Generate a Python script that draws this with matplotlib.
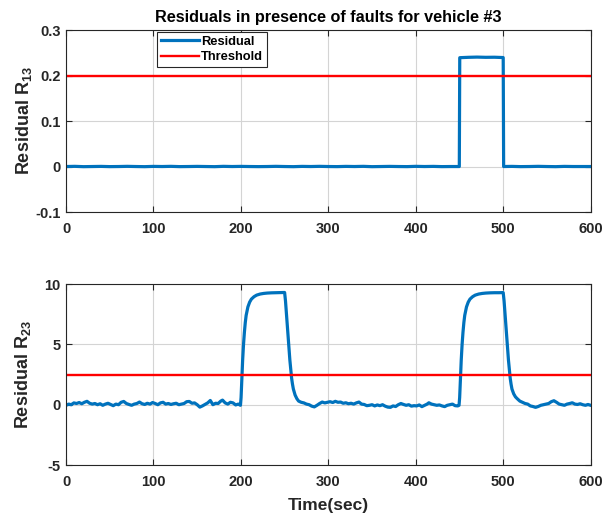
import matplotlib
matplotlib.use("Agg")
import matplotlib.pyplot as plt

plt.rcParams['font.family'] = ['Liberation Sans', 'DejaVu Sans']
plt.rcParams['font.weight'] = 'bold'
plt.rcParams['mathtext.fontset'] = 'custom'
plt.rcParams['mathtext.rm'] = 'Liberation Sans:bold'
plt.rcParams['mathtext.bf'] = 'Liberation Sans:bold'
plt.rcParams['mathtext.default'] = 'bf'
plt.rcParams['axes.unicode_minus'] = False

# residual R13 (top)
r13_t = [0, 10, 20, 30, 40, 50, 60, 70, 80, 90, 100, 110, 120, 130, 140, 150,
         160, 170, 180, 190, 200, 210, 220, 230, 240, 250, 260, 270, 280, 290,
         300, 310, 320, 330, 340, 350, 360, 370, 380, 390, 400, 410, 420, 430,
         440, 449.8, 450.3, 460, 470, 480, 490, 500, 500.5, 510, 520, 530, 540,
         550, 560, 570, 580, 590, 600]
r13_v = [0.0000, 0.0004, -0.0003, 0.0000, 0.0003, -0.0002, 0.0000, 0.0004,
         0.0000, -0.0003, 0.0003, 0.0000, 0.0004, -0.0002, 0.0000, 0.0003,
         0.0000, -0.0003, 0.0004, 0.0000, 0.0003, 0.0000, -0.0002, 0.0000,
         0.0004, 0.0000, -0.0003, 0.0003, 0.0000, 0.0004, 0.0000, -0.0002,
         0.0003, 0.0000, 0.0004, -0.0003, 0.0000, 0.0003, 0.0000, -0.0002,
         0.0004, 0.0000, 0.0003, -0.0002, 0.0000, 0.0000,
         0.2392, 0.2400, 0.2405, 0.2400, 0.2402, 0.2395,
         0.0000, 0.0003, -0.0002, 0.0000, 0.0004, 0.0000, -0.0003, 0.0003,
         0.0000, 0.0000, 0.0000]
thr13 = 0.2

# residual R23 (bottom)
r23_t = [0, 3, 6, 9, 12, 15, 18, 21, 24, 27, 30, 33, 36, 39, 42, 45, 48, 51,
         54, 57, 60, 63, 66, 69, 72, 75, 78, 81, 84, 87, 90, 93, 96, 99, 102,
         105, 108, 111, 114, 117, 120, 123, 126, 129, 132, 135, 138, 141, 144,
         147, 150, 153, 156, 159, 162, 165, 168, 171, 174, 177, 179, 182, 185,
         188, 191, 194, 197, 199.5,
         200.2, 201, 202, 203, 204, 205, 206, 208, 210, 212, 215, 218, 222,
         226, 230, 235, 240, 245, 250,
         251, 252, 253, 254, 255, 256, 257, 258, 259, 260, 262, 264, 266, 269,
         272, 275, 278, 281, 284, 287, 290, 293, 296, 299,
         302, 305, 308, 311, 314, 317, 320, 323, 326, 329, 332, 335, 338, 341,
         344, 347, 350, 353, 356, 359, 362, 365, 368, 371, 374, 377, 380, 383,
         386, 389, 392, 395, 398, 401, 404, 407, 410, 413, 415, 418, 421, 424,
         427, 430, 433, 436, 439, 442, 445, 448, 449.5,
         450.2, 451, 452, 453, 454, 455, 456, 458, 460, 462, 465, 468, 472,
         476, 480, 485, 490, 495, 500,
         501, 502, 503, 504, 505, 506, 507, 508, 509, 510, 512, 514, 516, 519,
         522, 525, 528, 531, 534, 537, 540, 543, 546, 549, 552, 555, 558, 561,
         564, 567, 570, 573, 576, 579, 582, 585, 588, 591, 594, 597, 600]
r23_v = [-0.05, 0.05, 0.0, 0.15, 0.1, 0.18, 0.08, 0.2, 0.28, 0.12, 0.05, 0.1,
         0.0, 0.08, -0.05, 0.05, 0.12, 0.02, -0.08, 0.05, 0.0, 0.2, 0.27, 0.1,
         0.02, -0.05, 0.05, 0.1, 0.22, 0.08, 0.02, 0.12, 0.05, 0.18, 0.1, 0.0,
         0.15, 0.2, 0.05, 0.1, 0.02, 0.08, 0.12, 0.0, 0.05, 0.1, 0.25, 0.27,
         0.12, 0.15, 0.0, -0.2, -0.1, 0.02, 0.15, 0.35, 0.0, 0.12, 0.1, 0.3,
         0.38, 0.15, 0.05, 0.2, 0.15, -0.02, 0.05, -0.05,
         0.6, 2.0, 3.7, 5.0, 6.0, 6.8, 7.4, 8.1, 8.5, 8.75, 8.95, 9.08, 9.17,
         9.22, 9.25, 9.27, 9.28, 9.29, 9.3,
         8.6, 7.6, 6.6, 5.6, 4.6, 3.7, 2.9, 2.2, 1.7, 1.3, 0.8, 0.5, 0.3, 0.2,
         0.15, 0.05, 0.0, -0.12, -0.18, -0.05, 0.1, 0.22, 0.15, 0.2,
         0.25, 0.18, 0.28, 0.2, 0.22, 0.12, 0.16, 0.08, 0.12, 0.05, 0.15, 0.22,
         0.05, 0.02, -0.08, -0.05, 0.0, -0.1, -0.02, -0.08, 0.0, -0.12, -0.2,
         -0.22, -0.1, -0.15, 0.0, 0.1, 0.02, -0.05, 0.0, -0.12, -0.08, -0.1,
         -0.02, -0.16, -0.05, 0.05, 0.16, 0.05, 0.0, -0.05, -0.02, -0.1, -0.16,
         -0.05, 0.0, 0.05, -0.08, -0.1, -0.05,
         0.6, 2.0, 3.7, 5.0, 6.0, 6.8, 7.4, 8.1, 8.5, 8.75, 8.95, 9.08, 9.17,
         9.22, 9.25, 9.27, 9.28, 9.28, 9.29,
         8.6, 7.6, 6.6, 5.6, 4.6, 3.7, 2.9, 2.2, 1.7, 1.3, 0.9, 0.65, 0.5, 0.3,
         0.2, 0.1, 0.05, -0.1, -0.15, -0.22, -0.15, -0.05, 0.0, 0.05, 0.1,
         0.25, 0.33, 0.2, 0.05, 0.0, -0.05, 0.05, 0.1, 0.16, 0.05, 0.02, 0.08,
         0.0, -0.05, 0.02, -0.05]
thr23 = 2.5

x_ticks = [0, 100, 200, 300, 400, 500, 600]
blue = '#0072BD'
dark = '#262626'


def style_axes(ax):
    ax.set_xlim(0, 600)
    ax.set_xticks(x_ticks)
    ax.grid(True, color='#d4d4d4', linewidth=0.8)
    ax.set_axisbelow(True)
    ax.tick_params(direction='in', top=True, right=True, length=4,
                   width=0.8, labelsize=10.5, colors=dark)
    ax.tick_params(axis='x', pad=7)
    ax.tick_params(axis='y', pad=4)
    for s in ax.spines.values():
        s.set_color(dark)
        s.set_linewidth(0.8)
    for lbl in ax.get_xticklabels() + ax.get_yticklabels():
        lbl.set_fontweight('bold')


fig = plt.figure(figsize=(6.03, 5.15), dpi=100)
ax1 = fig.add_axes([0.1095, 0.5883, 0.8700, 0.3534])
ax2 = fig.add_axes([0.1095, 0.0970, 0.8700, 0.3515])

ax1.plot(r13_t, r13_v, color=blue, linewidth=2.3, label='Residual')
ax1.axhline(thr13, color='red', linewidth=1.7, label='Threshold')
ax1.set_ylim(-0.1, 0.3)
ax1.set_yticks([-0.1, 0, 0.1, 0.2, 0.3])
ax1.set_yticklabels(['-0.1', '0', '0.1', '0.2', '0.3'])
style_axes(ax1)
ax1.set_ylabel('Residual R$_{13}$', fontsize=13, fontweight='bold',
               color=dark, labelpad=1)
ax1.set_title('Residuals in presence of faults for vehicle #3', fontsize=11.7,
              fontweight='bold', pad=6)
leg = ax1.legend(loc='upper left', bbox_to_anchor=(0.173, 0.99),
                 borderaxespad=0, fontsize=9.3, handlelength=3.0,
                 handletextpad=0.15, borderpad=0.3, labelspacing=0.25,
                 fancybox=False, edgecolor=dark, framealpha=1)
leg.get_frame().set_linewidth(0.8)
for t in leg.get_texts():
    t.set_fontweight('bold')

ax2.plot(r23_t, r23_v, color=blue, linewidth=2.3)
ax2.axhline(thr23, color='red', linewidth=1.7)
ax2.set_ylim(-5, 10)
ax2.set_yticks([-5, 0, 5, 10])
style_axes(ax2)
ax2.set_ylabel('Residual R$_{23}$', fontsize=13, fontweight='bold',
               color=dark, labelpad=8)
ax2.set_xlabel('Time(sec)', fontsize=12.5, fontweight='bold', color=dark,
               labelpad=7)

fig.savefig('out.png', dpi=100)
